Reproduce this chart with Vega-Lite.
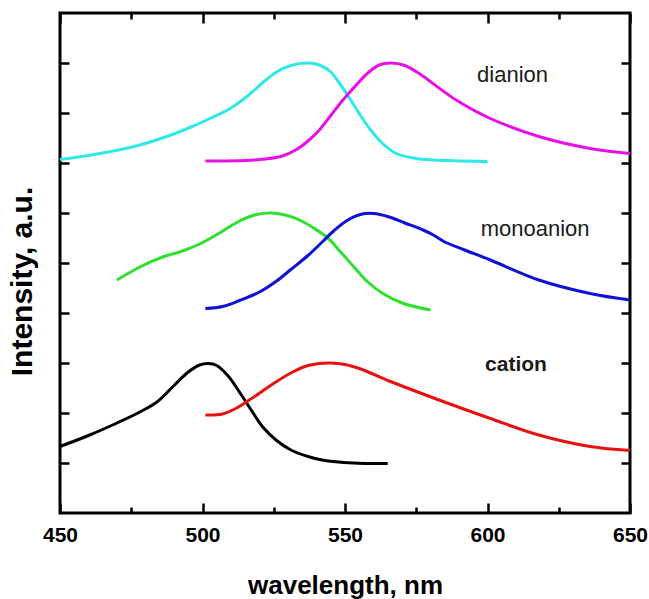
{
  "$schema": "https://vega.github.io/schema/vega-lite/v6.json",
  "width": 570,
  "height": 500,
  "autosize": {"type": "none"},
  "padding": {"left": 60, "top": 13, "right": 19, "bottom": 86},
  "background": "white",
  "config": {
    "view": {"stroke": "black", "strokeWidth": 3},
    "font": "Liberation Sans"
  },
  "datasets": {
    "curves": [
      {"series": "cation_abs", "wl": 450, "v": 1.33},
      {"series": "cation_abs", "wl": 460, "v": 1.55},
      {"series": "cation_abs", "wl": 470, "v": 1.8},
      {"series": "cation_abs", "wl": 478, "v": 2.02},
      {"series": "cation_abs", "wl": 484, "v": 2.22},
      {"series": "cation_abs", "wl": 490, "v": 2.55},
      {"series": "cation_abs", "wl": 495, "v": 2.82},
      {"series": "cation_abs", "wl": 499, "v": 2.96},
      {"series": "cation_abs", "wl": 502, "v": 2.99},
      {"series": "cation_abs", "wl": 505, "v": 2.95},
      {"series": "cation_abs", "wl": 509, "v": 2.74},
      {"series": "cation_abs", "wl": 514, "v": 2.33},
      {"series": "cation_abs", "wl": 518, "v": 1.98},
      {"series": "cation_abs", "wl": 521, "v": 1.73},
      {"series": "cation_abs", "wl": 526, "v": 1.45},
      {"series": "cation_abs", "wl": 531, "v": 1.26},
      {"series": "cation_abs", "wl": 537, "v": 1.13},
      {"series": "cation_abs", "wl": 542, "v": 1.06},
      {"series": "cation_abs", "wl": 553, "v": 1.0},
      {"series": "cation_abs", "wl": 565, "v": 0.99},
      {"series": "cation_em", "wl": 501, "v": 1.96},
      {"series": "cation_em", "wl": 507, "v": 1.98},
      {"series": "cation_em", "wl": 512, "v": 2.1},
      {"series": "cation_em", "wl": 518, "v": 2.32},
      {"series": "cation_em", "wl": 526, "v": 2.63},
      {"series": "cation_em", "wl": 532, "v": 2.83},
      {"series": "cation_em", "wl": 537, "v": 2.95},
      {"series": "cation_em", "wl": 541, "v": 2.99},
      {"series": "cation_em", "wl": 545, "v": 3.0},
      {"series": "cation_em", "wl": 550, "v": 2.97},
      {"series": "cation_em", "wl": 556, "v": 2.87},
      {"series": "cation_em", "wl": 566, "v": 2.63},
      {"series": "cation_em", "wl": 583, "v": 2.26},
      {"series": "cation_em", "wl": 601, "v": 1.89},
      {"series": "cation_em", "wl": 618, "v": 1.56},
      {"series": "cation_em", "wl": 636, "v": 1.33},
      {"series": "cation_em", "wl": 650, "v": 1.25},
      {"series": "mono_abs", "wl": 470, "v": 4.66},
      {"series": "mono_abs", "wl": 478, "v": 4.92},
      {"series": "mono_abs", "wl": 486, "v": 5.12},
      {"series": "mono_abs", "wl": 493, "v": 5.24},
      {"series": "mono_abs", "wl": 499, "v": 5.38},
      {"series": "mono_abs", "wl": 506, "v": 5.6},
      {"series": "mono_abs", "wl": 513, "v": 5.84},
      {"series": "mono_abs", "wl": 519, "v": 5.97},
      {"series": "mono_abs", "wl": 524, "v": 6.0},
      {"series": "mono_abs", "wl": 529, "v": 5.96},
      {"series": "mono_abs", "wl": 534, "v": 5.86},
      {"series": "mono_abs", "wl": 539, "v": 5.7},
      {"series": "mono_abs", "wl": 544, "v": 5.5},
      {"series": "mono_abs", "wl": 548, "v": 5.25},
      {"series": "mono_abs", "wl": 553, "v": 4.93},
      {"series": "mono_abs", "wl": 558, "v": 4.62},
      {"series": "mono_abs", "wl": 563, "v": 4.4},
      {"series": "mono_abs", "wl": 570, "v": 4.2},
      {"series": "mono_abs", "wl": 580, "v": 4.06},
      {"series": "mono_em", "wl": 501, "v": 4.09},
      {"series": "mono_em", "wl": 507, "v": 4.13},
      {"series": "mono_em", "wl": 513, "v": 4.25},
      {"series": "mono_em", "wl": 520, "v": 4.42},
      {"series": "mono_em", "wl": 526, "v": 4.64},
      {"series": "mono_em", "wl": 531, "v": 4.87},
      {"series": "mono_em", "wl": 537, "v": 5.15},
      {"series": "mono_em", "wl": 542, "v": 5.42},
      {"series": "mono_em", "wl": 546, "v": 5.64},
      {"series": "mono_em", "wl": 551, "v": 5.86},
      {"series": "mono_em", "wl": 556, "v": 5.98},
      {"series": "mono_em", "wl": 560, "v": 5.99},
      {"series": "mono_em", "wl": 565, "v": 5.93},
      {"series": "mono_em", "wl": 571, "v": 5.8},
      {"series": "mono_em", "wl": 577, "v": 5.67},
      {"series": "mono_em", "wl": 581, "v": 5.56},
      {"series": "mono_em", "wl": 585, "v": 5.42},
      {"series": "mono_em", "wl": 592, "v": 5.26},
      {"series": "mono_em", "wl": 601, "v": 5.06},
      {"series": "mono_em", "wl": 618, "v": 4.66},
      {"series": "mono_em", "wl": 636, "v": 4.39},
      {"series": "mono_em", "wl": 650, "v": 4.26},
      {"series": "di_abs", "wl": 450, "v": 7.07},
      {"series": "di_abs", "wl": 463, "v": 7.18},
      {"series": "di_abs", "wl": 476, "v": 7.33},
      {"series": "di_abs", "wl": 487, "v": 7.52},
      {"series": "di_abs", "wl": 496, "v": 7.72},
      {"series": "di_abs", "wl": 503, "v": 7.9},
      {"series": "di_abs", "wl": 510, "v": 8.1},
      {"series": "di_abs", "wl": 516, "v": 8.35},
      {"series": "di_abs", "wl": 521, "v": 8.6},
      {"series": "di_abs", "wl": 526, "v": 8.82},
      {"series": "di_abs", "wl": 531, "v": 8.95},
      {"series": "di_abs", "wl": 537, "v": 9.0},
      {"series": "di_abs", "wl": 541, "v": 8.96},
      {"series": "di_abs", "wl": 545, "v": 8.82},
      {"series": "di_abs", "wl": 548, "v": 8.6},
      {"series": "di_abs", "wl": 552, "v": 8.26},
      {"series": "di_abs", "wl": 556, "v": 7.9},
      {"series": "di_abs", "wl": 559, "v": 7.66},
      {"series": "di_abs", "wl": 563, "v": 7.4},
      {"series": "di_abs", "wl": 568, "v": 7.19},
      {"series": "di_abs", "wl": 575, "v": 7.09},
      {"series": "di_abs", "wl": 581, "v": 7.06},
      {"series": "di_abs", "wl": 600, "v": 7.03},
      {"series": "di_em", "wl": 501, "v": 7.04},
      {"series": "di_em", "wl": 515, "v": 7.05},
      {"series": "di_em", "wl": 522, "v": 7.08},
      {"series": "di_em", "wl": 528, "v": 7.14},
      {"series": "di_em", "wl": 533, "v": 7.27},
      {"series": "di_em", "wl": 537, "v": 7.44},
      {"series": "di_em", "wl": 541, "v": 7.66},
      {"series": "di_em", "wl": 545, "v": 7.95},
      {"series": "di_em", "wl": 549, "v": 8.24},
      {"series": "di_em", "wl": 553, "v": 8.5},
      {"series": "di_em", "wl": 558, "v": 8.8},
      {"series": "di_em", "wl": 562, "v": 8.96},
      {"series": "di_em", "wl": 566, "v": 9.0},
      {"series": "di_em", "wl": 571, "v": 8.95},
      {"series": "di_em", "wl": 577, "v": 8.75},
      {"series": "di_em", "wl": 583, "v": 8.5},
      {"series": "di_em", "wl": 589, "v": 8.26},
      {"series": "di_em", "wl": 601, "v": 7.89},
      {"series": "di_em", "wl": 618, "v": 7.53},
      {"series": "di_em", "wl": 636, "v": 7.29},
      {"series": "di_em", "wl": 650, "v": 7.19}
    ],
    "labels": [
      {"label": "dianion", "wl": 608.8, "v": 8.76, "bold": false},
      {"label": "monoanion", "wl": 616.7, "v": 5.68, "bold": false},
      {"label": "cation", "wl": 610, "v": 2.96, "bold": true}
    ]
  },
  "layer": [
    {
      "data": {"name": "curves"},
      "mark": {"type": "line", "strokeWidth": 3, "interpolate": "catmull-rom"},
      "encoding": {
        "x": {
          "field": "wl", "type": "quantitative",
          "scale": {"domain": [450, 650], "nice": false, "zero": false},
          "axis": {
            "orient": "bottom",
            "title": "wavelength, nm",
            "titleFont": "Liberation Sans", "titleFontSize": 26, "titleFontWeight": "bold",
            "titleColor": "black",
            "titleBaseline": "middle", "titleY": 72,
            "values": [450, 475, 500, 525, 550, 575, 600, 625, 650],
            "labelExpr": "datum.value % 50 === 0 ? datum.label : ''",
            "labelFont": "Liberation Sans", "labelFontSize": 21, "labelFontWeight": "bold",
            "labelColor": "black", "labelFlush": false, "labelPadding": 21,
            "domain": false, "grid": false,
            "tickColor": "black", "tickWidth": 2.5,
            "tickSize": {"condition": {"test": "datum.value % 50 === 0", "value": -10}, "value": -6}
          }
        },
        "y": {
          "field": "v", "type": "quantitative",
          "scale": {"domain": [0, 10], "nice": false, "zero": false},
          "axis": {
            "orient": "left",
            "title": "Intensity, a.u.",
            "titleFont": "Liberation Sans", "titleFontSize": 30, "titleFontWeight": "bold",
            "titleColor": "black",
            "titleBaseline": "middle", "titleX": -38, "titleY": 268, "titleAngle": -90,
            "values": [1, 2, 3, 4, 5, 6, 7, 8, 9],
            "labels": false, "domain": false, "grid": false,
            "tickColor": "black", "tickWidth": 2.5, "tickSize": -9
          }
        },
        "detail": {"field": "series"},
        "color": {
          "field": "series", "type": "nominal", "legend": null,
          "scale": {
            "domain": ["cation_abs", "cation_em", "mono_abs", "mono_em", "di_abs", "di_em"],
            "range": ["#000000", "#e81010", "#30e030", "#1010d8", "#30e8e8", "#e810e8"]
          }
        }
      }
    },
    {
      "data": {"name": "labels"},
      "transform": [{"filter": "!datum.bold"}],
      "mark": {"type": "text", "font": "Liberation Sans", "fontSize": 22, "color": "#1a1a1a", "align": "center", "baseline": "middle"},
      "encoding": {
        "x": {
          "field": "wl", "type": "quantitative",
          "axis": {
            "orient": "top", "title": null, "labels": false, "domain": false, "grid": false,
            "values": [450, 475, 500, 525, 550, 575, 600, 625, 650],
            "tickColor": "black", "tickWidth": 2.5,
            "tickSize": {"condition": {"test": "datum.value % 50 === 0", "value": -10}, "value": -6}
          }
        },
        "y": {
          "field": "v", "type": "quantitative",
          "axis": {
            "orient": "right", "title": null, "labels": false, "domain": false, "grid": false,
            "values": [1, 2, 3, 4, 5, 6, 7, 8, 9],
            "tickColor": "black", "tickWidth": 2.5, "tickSize": -9
          }
        },
        "text": {"field": "label"}
      }
    },
    {
      "data": {"name": "labels"},
      "transform": [{"filter": "datum.bold"}],
      "mark": {"type": "text", "font": "Liberation Sans", "fontSize": 21, "fontWeight": "bold", "color": "#1a1a1a", "align": "center", "baseline": "middle"},
      "encoding": {
        "x": {"field": "wl", "type": "quantitative", "axis": null},
        "y": {"field": "v", "type": "quantitative", "axis": null},
        "text": {"field": "label"}
      }
    }
  ],
  "resolve": {"axis": {"x": "independent", "y": "independent"}}
}
